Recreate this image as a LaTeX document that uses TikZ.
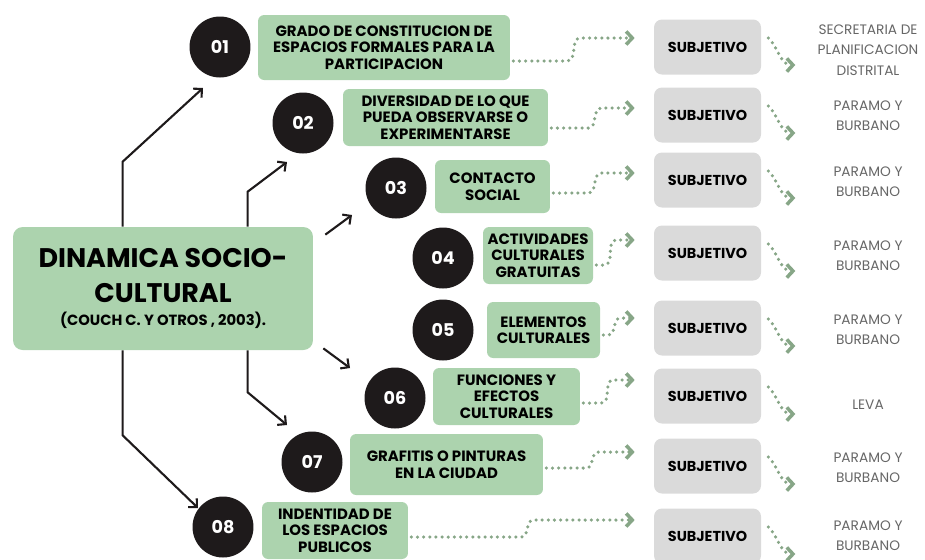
\documentclass[tikz,border=0pt]{standalone}
\usepackage{fontspec}
\setmainfont{Poppins}
\usetikzlibrary{arrows.meta,calc}

\definecolor{verde}{RGB}{172,211,174}
\definecolor{gris}{RGB}{218,218,218}
\definecolor{negro}{RGB}{30,26,27}
\definecolor{salvia}{RGB}{135,166,135}

\begin{document}
\begin{tikzpicture}[x = 0.02cm, y = -0.02cm,
                    num/.style = {circle, fill = negro, text = white, minimum size = 1.22cm, inner sep = 0pt,
                                  font = \bfseries\fontsize{10}{12}\selectfont},
                    caja/.style = {rounded corners = 3.5pt, fill = verde, align = center, inner sep = 0pt,
                                   font = \bfseries\fontsize{8.5}{9.4}\selectfont},
                    subj/.style = {rounded corners = 4.5pt, fill = gris, minimum width = 2.14cm, minimum height = 1.1cm,
                                   font = \bfseries\fontsize{8.2}{9}\selectfont},
                    fuente/.style = {align = center, text = black!60, font = \fontsize{7.8}{11.5}\selectfont},
                    negra/.style = {-{Straight Barb[length = 3.5pt, width = 7pt]}, line width = 1.2pt, negro},
                    punteada/.style = {-{Straight Barb[length = 3.5pt, width = 7.5pt, line width = 2pt]}, salvia,
                                       line width = 2pt, line cap = round, dash pattern = on 0pt off 3.5pt}]

\useasboundingbox (0,0) rectangle (925,559);

% main box
\node [rounded corners = 5.5pt, fill = verde, minimum width = 6cm, minimum height = 2.46cm, align = center,
       font = \bfseries\fontsize{15.3}{19.8}\selectfont] (M) at (163,288.5)
      {DINAMICA SOCIO-\\CULTURAL\\[-7pt]{\fontsize{8.4}{10}\selectfont (COUCH C. Y OTROS , 2003).}};

% numbers
\node [num] (N1) at (220,47) {01};
\node [num] (N2) at (303,123) {02};
\node [num] (N3) at (396,188) {03};
\node [num] (N4) at (443,258) {04};
\node [num] (N5) at (443,330) {05};
\node [num] (N6) at (395,398) {06};
\node [num] (N7) at (312,462) {07};
\node [num] (N8) at (223,527) {08};

% green boxes
\node [caja, minimum width = 5.04cm, minimum height = 1.3cm] (F1) at (384,47.5)
      {GRADO DE CONSTITUCION DE\\ESPACIOS FORMALES PARA LA\\PARTICIPACION};
\node [caja, minimum width = 4.1cm, minimum height = 1.14cm] (F2) at (445.5,117.5)
      {DIVERSIDAD DE LO QUE\\PUEDA OBSERVARSE O\\EXPERIMENTARSE};
\node [caja, minimum width = 2.3cm, minimum height = 1.06cm] (F3) at (492.5,186.5) {CONTACTO\\SOCIAL};
\node [caja, minimum width = 2.2cm, minimum height = 1.14cm] (F4) at (538,255.5)
      {ACTIVIDADES\\CULTURALES\\GRATUITAS};
\node [caja, minimum width = 2.26cm, minimum height = 1.12cm] (F5) at (543.5,330) {ELEMENTOS\\CULTURALES};
\node [caja, minimum width = 2.94cm, minimum height = 1.14cm] (F6) at (506.5,396.5)
      {FUNCIONES Y\\EFECTOS\\CULTURALES};
\node [caja, minimum width = 3.86cm, minimum height = 1.22cm] (F7) at (446.5,464.5)
      {GRAFITIS O PINTURAS\\EN LA CIUDAD};
\node [caja, minimum width = 2.92cm, minimum height = 1.14cm] (F8) at (335,530.5)
      {INDENTIDAD DE\\LOS ESPACIOS\\PUBLICOS};

% subjetivo
\node [subj] (S1) at (707.5,47) {SUBJETIVO};
\node [subj] (S2) at (707.5,115) {SUBJETIVO};
\node [subj] (S3) at (707.5,180) {SUBJETIVO};
\node [subj] (S4) at (707.5,253) {SUBJETIVO};
\node [subj] (S5) at (707.5,328) {SUBJETIVO};
\node [subj] (S6) at (707.5,396) {SUBJETIVO};
\node [subj] (S7) at (707.5,466) {SUBJETIVO};
\node [subj] (S8) at (707.5,536) {SUBJETIVO};

% sources
\node [fuente] (L1) at (868,50) {SECRETARIA DE\\PLANIFICACION\\DISTRITAL};
\node [fuente] (L2) at (868,116) {PARAMO Y\\BURBANO};
\node [fuente] (L3) at (868,182) {PARAMO Y\\BURBANO};
\node [fuente] (L4) at (868,256) {PARAMO Y\\BURBANO};
\node [fuente] (L5) at (868,330) {PARAMO Y\\BURBANO};
\node [fuente] (L6) at (868,405) {LEVA};
\node [fuente] (L7) at (868,468) {PARAMO Y\\BURBANO};
\node [fuente] (L8) at (868,536) {PARAMO Y\\BURBANO};

% black arrows
\draw [negra] ($(M.north west)+(110,0)$) -- ++(0,-65) -- ($(N1)+(-17,41)$);
\draw [negra] ($(M.north west)+(235,0)$) -- ++(0,-35) -- ($(N2)+(-16,39)$);
\draw [negra] ($(M.north east)+(12,8)$) -- ($(N3)+(-44,27)$);
\draw [negra] ($(M.south east)+(10,-2)$) -- ($(N6)+(-45,-30)$);
\draw [negra] ($(M.south west)+(235,0)$) -- ++(0,42) -- ($(N7)+(-25,-37)$);
\draw [negra] ($(M.south west)+(110,0)$) -- ++(0,85) -- ($(N8)+(-25,-19)$);

% dotted arrows
\draw [punteada] ($(F1.east)+(3,13.5)$) -- ++(54,0) to[out=0, in=180] ++(13,-23) -- ($(S1.west)+(-19,-9)$);
\draw [punteada] ($(F2.east)+(3,10.5)$) -- ++(37,0) to[out=0, in=180] ++(13,-20) -- ($(S2.west)+(-19,-7)$);
\draw [punteada] ($(F3.east)+(3,6.5)$) -- ++(35,0) to[out=0, in=180] ++(13,-20) -- ($(S3.west)+(-19,-7)$);
\draw [punteada] ($(F4.east)+(3,9.5)$) -- ++(8,0) to[out=0, in=180] ++(12,-25) -- ($(S4.west)+(-19,-13)$);
\draw [punteada] ($(F5.east)+(3,5)$) -- ++(5,0) to[out=0, in=180] ++(12,-17) -- ($(S5.west)+(-19,-10)$);
\draw [punteada] ($(F6.east)+(3,6.5)$) -- ++(18,0) to[out=0, in=180] ++(12,-23) -- ($(S6.west)+(-19,-16)$);
\draw [punteada] ($(F7.east)+(3,3.5)$) -- ++(40,0) to[out=0, in=180] ++(12,-16) -- ($(S7.west)+(-19,-14)$);
\draw [punteada] ($(F8.east)+(3,6.5)$) -- ++(110,0) to[out=0, in=180] ++(12,-17) -- ($(S8.west)+(-19,-16)$);

\draw [punteada] ($(S1.east)+(7,-9)$) to[out=-45, in=180] ($(S1.east)+(34,18)$);
\draw [punteada] ($(S2.east)+(7,-9)$) to[out=-45, in=180] ($(S2.east)+(34,18)$);
\draw [punteada] ($(S3.east)+(7,-9)$) to[out=-45, in=180] ($(S3.east)+(34,18)$);
\draw [punteada] ($(S4.east)+(7,-9)$) to[out=-45, in=180] ($(S4.east)+(34,18)$);
\draw [punteada] ($(S5.east)+(7,-9)$) to[out=-45, in=180] ($(S5.east)+(34,18)$);
\draw [punteada] ($(S6.east)+(7,-9)$) to[out=-45, in=180] ($(S6.east)+(34,18)$);
\draw [punteada] ($(S7.east)+(7,-9)$) to[out=-45, in=180] ($(S7.east)+(34,18)$);
\draw [punteada] ($(S8.east)+(7,-9)$) to[out=-45, in=180] ($(S8.east)+(34,18)$);
\end{tikzpicture}
\end{document}
